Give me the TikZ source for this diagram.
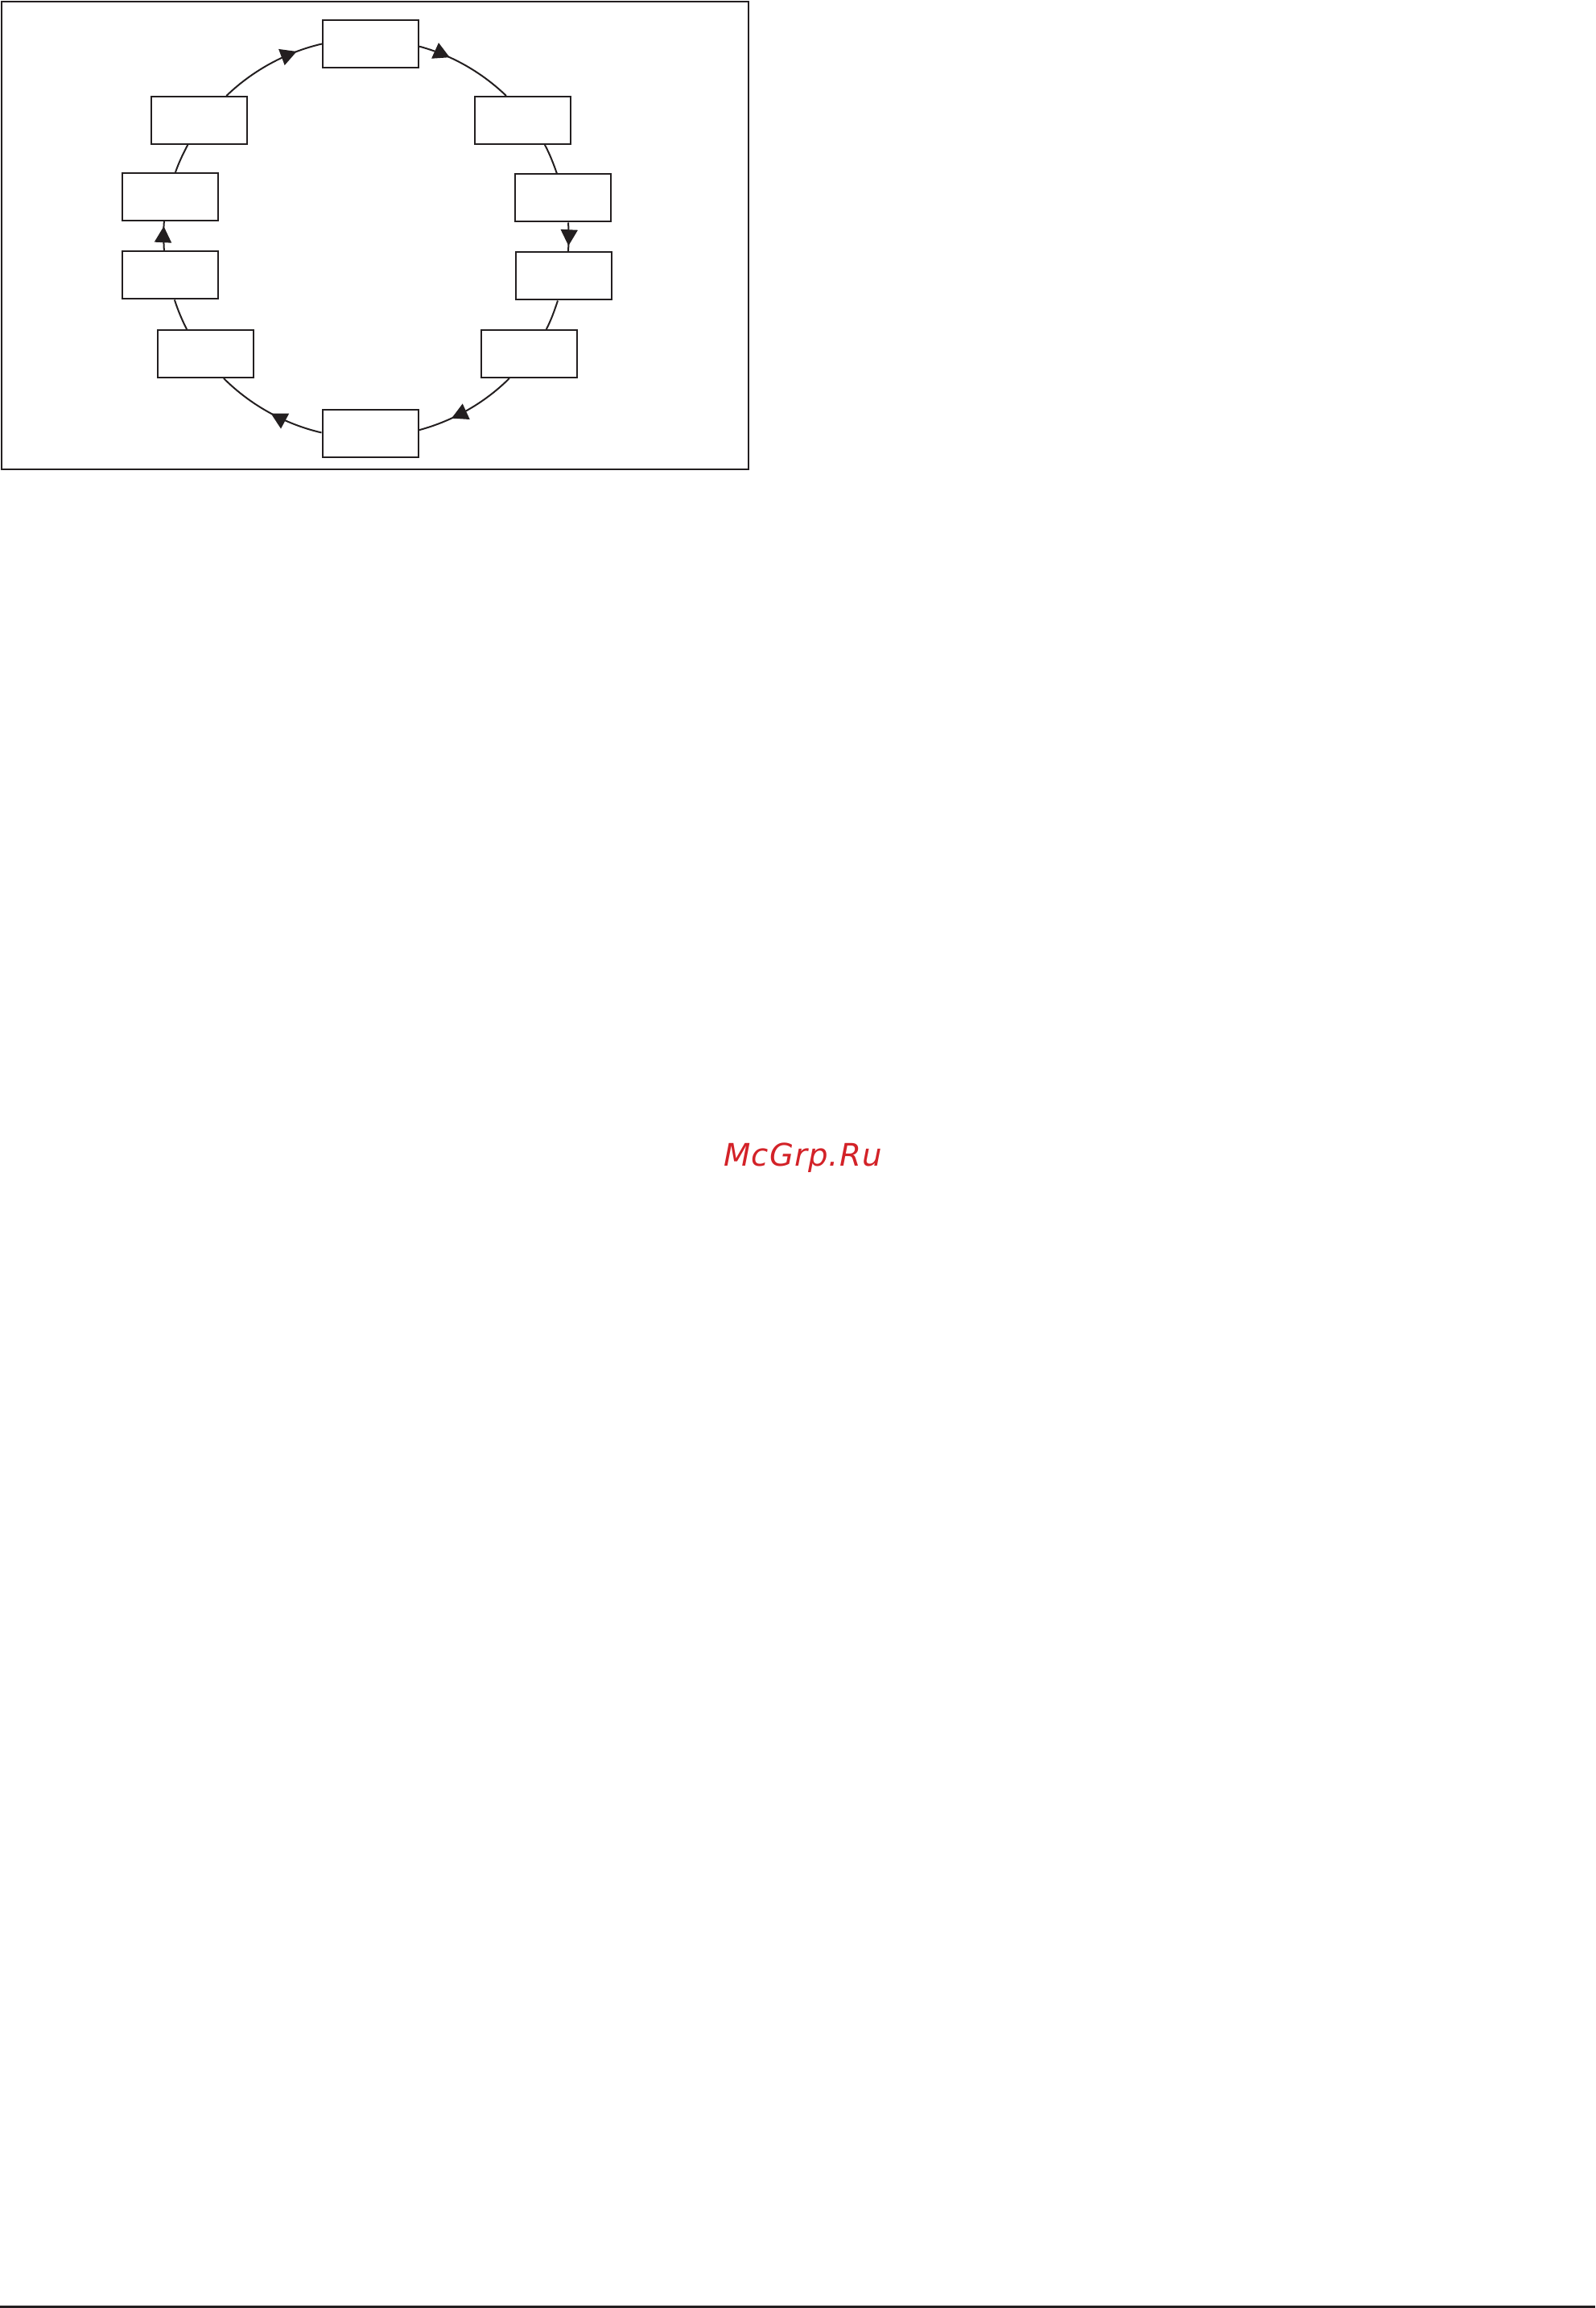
\documentclass[tikz,border=0pt]{standalone}
\usepackage{fontspec}
\newfontfamily\sitefont[LetterSpace=3.0]{DejaVu Sans}
\usetikzlibrary{arrows.meta, decorations.markings}
\definecolor{ink}{RGB}{35,31,32}
\definecolor{sitered}{RGB}{211,34,40}

\begin{document}
\begin{tikzpicture}[
    box/.style={draw=ink, line width=0.02cm, fill=white,
      minimum width=1.19cm, minimum height=0.59cm, inner sep=0pt},
    link/.style={ink, line width=0.02cm, looseness=0.86},
    flow/.style={postaction={decorate}, decoration={markings,
      mark=at position #1 with {\arrow{Triangle[length=2mm, width=2.1mm]}}}}
  ]

  % page
  \useasboundingbox (0,0) rectangle (19.82,-28.67);

  % frame round the cycle
  \draw[ink, line width=0.022cm] (0.02,-0.02) rectangle (9.30,-5.833);

  % boxes, clockwise from the top
  \node[box] (top) at (4.605,-0.545) {};
  \node[box] (tr)  at (6.495,-1.495) {};
  \node[box] (r1)  at (6.995,-2.46)  {};
  \node[box] (r2)  at (7.00,-3.43)   {};
  \node[box] (br)  at (6.575,-4.395) {};
  \node[box] (bot) at (4.60,-5.385)  {};
  \node[box] (bl)  at (2.55,-4.395)  {};
  \node[box] (l2)  at (2.115,-3.42)  {};
  \node[box] (l1)  at (2.115,-2.445) {};
  \node[box] (tl)  at (2.475,-1.495) {};

  % upper half
  \draw[link, flow=0.76] (tl.42)  to[out=44,  in=193] (top.west);
  \draw[link, flow=0.32] (top.-3) to[out=-15, in=136] (tr.124);
  \draw[link]            (tr.-48) to[out=-62, in=109] (r1.104);

  % right side
  \draw[link, flow=0.8]  (r1.-78)  to[out=-86,  in=86] (r2.79);
  \draw[link]            (r2.-103) to[out=-108, in=63] (br.55);

  % lower half
  \draw[link, flow=0.67] (br.-129) to[out=-135, in=15]  (bot.4);
  \draw[link, flow=0.48] (bot.179) to[out=167,  in=-45] (bl.-53);
  \draw[link]            (bl.127)  to[out=117,  in=-72] (l2.-80);

  % left side
  \draw[link, flow=0.83] (l2.104) to[out=93, in=-95]  (l1.-104);
  \draw[link]            (l1.78)  to[out=71, in=-118] (tl.-115);

  % watermark
  \node[sitered, anchor=base, inner sep=0pt,
    font=\sitefont\itshape\fontsize{11pt}{13pt}\selectfont]
    (site) at (9.975,-14.483) {McGrp.Ru};

  % rule at the foot of the page
  \draw[ink, line width=0.03cm] (0,-28.65) -- (19.82,-28.65);

\end{tikzpicture}
\end{document}
